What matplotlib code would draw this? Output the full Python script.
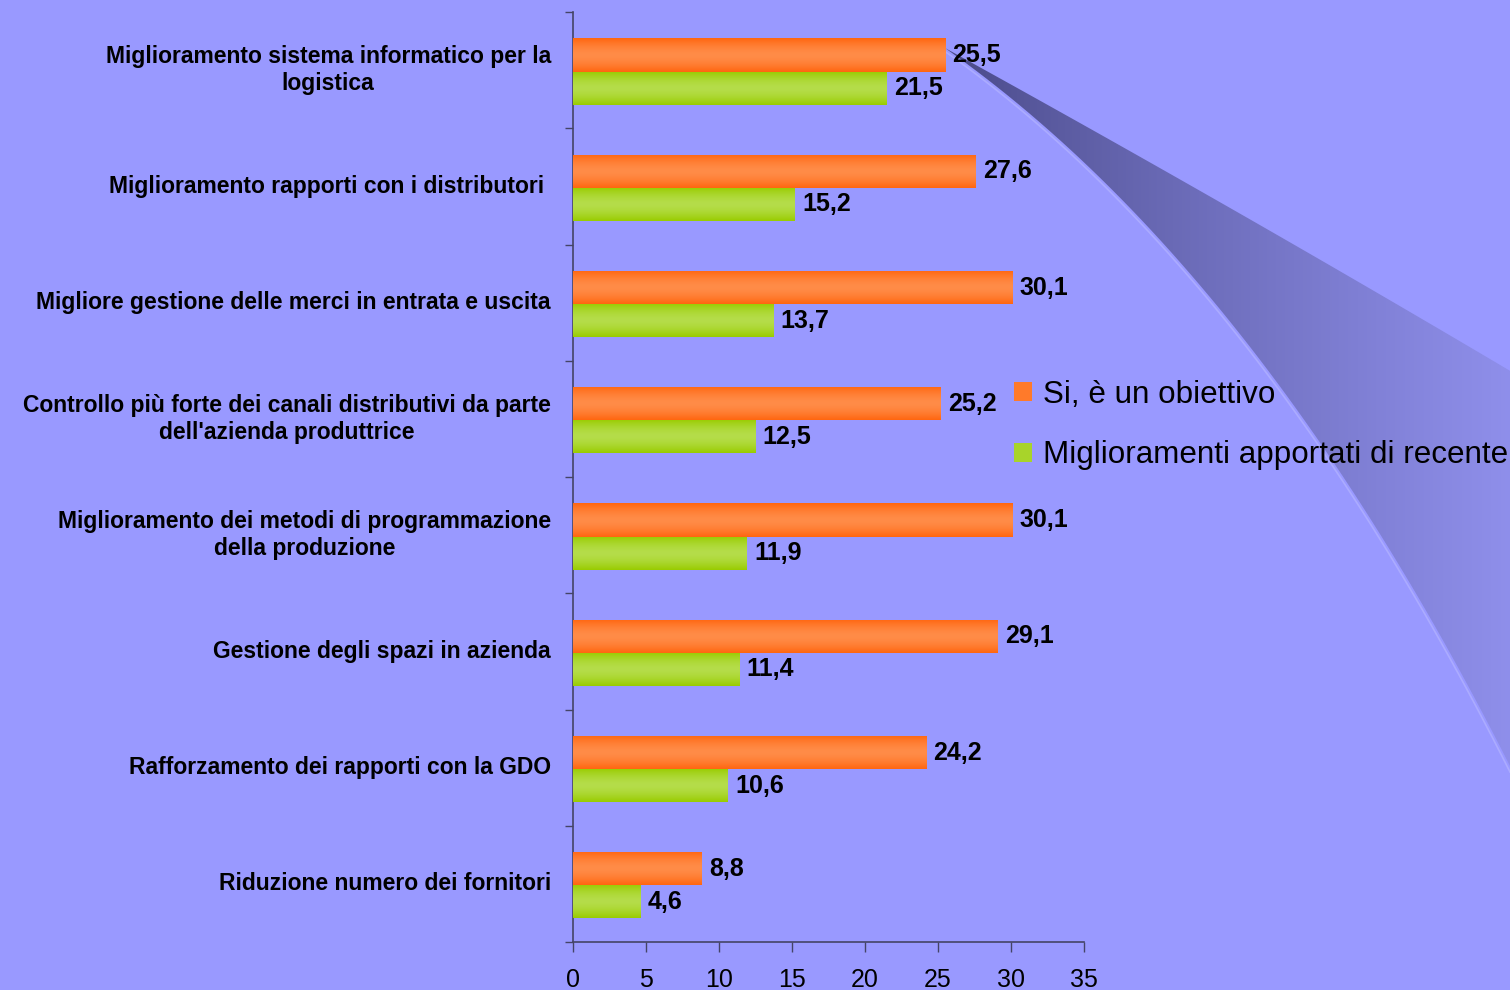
import matplotlib.pyplot as plt
import numpy as np
from matplotlib.colors import to_rgb
from matplotlib.patches import Patch, PathPatch
from matplotlib.path import Path

plt.rcParams['font.family'] = ['Liberation Sans', 'DejaVu Sans']

categories = [
    "Miglioramento sistema informatico per la\nlogistica",
    "Miglioramento rapporti con i distributori ",
    "Migliore gestione delle merci in entrata e uscita",
    "Controllo più forte dei canali distributivi da parte\ndell'azienda produttrice",
    "Miglioramento dei metodi di programmazione\ndella produzione",
    "Gestione degli spazi in azienda",
    "Rafforzamento dei rapporti con la GDO",
    "Riduzione numero dei fornitori",
]
obiettivo = [25.5, 27.6, 30.1, 25.2, 30.1, 29.1, 24.2, 8.8]
recenti = [21.5, 15.2, 13.7, 12.5, 11.9, 11.4, 10.6, 4.6]
series_names = ["Si, è un obiettivo", "Miglioramenti apportati di recente"]
xticks = [0, 5, 10, 15, 20, 25, 30, 35]

BG = "#9999ff"
ORANGE_EDGE, ORANGE_MID = "#ff6610", "#ff8c48"
GREEN_EDGE, GREEN_MID = "#99cc00", "#b5dd4a"

W, H = 1510, 990
fig = plt.figure(figsize=(W / 100, H / 100), dpi=100, facecolor=BG)

# decorative swoosh on the right, drawn in pixel coordinates
deco = fig.add_axes([0, 0, 1, 1], zorder=0)
deco.axis("off")
deco.set_facecolor(BG)


def bezier(p0, p1, p2, n=60):
    t = np.linspace(0, 1, n)[:, None]
    return (1 - t) ** 2 * np.array(p0) + 2 * (1 - t) * t * np.array(p1) + t ** 2 * np.array(p2)


upper = bezier((945, 48), (1230, 205), (1512, 372))
lower = bezier((945, 48), (1260, 270), (1512, 770))
outline = np.vstack([upper, [(1520, 372), (1520, 770)], lower[::-1]])
swoosh = PathPatch(Path(outline), facecolor="none", edgecolor="none")
deco.add_patch(swoosh)
gx = np.linspace(0, 1, 300)
dark = np.array([0.28, 0.28, 0.52])
light = np.array([0.56, 0.56, 0.92])
grad = dark + (light - dark) * (gx[:, None] ** 0.8)
img = deco.imshow(grad[None, :, :], extent=(945, W, H, 0), aspect="auto", zorder=1)
img.set_clip_path(swoosh)
deco.plot(lower[:, 0] - 2, lower[:, 1] + 2, color="#b0b0ff", lw=1.2, alpha=0.8, zorder=2)
deco.set_xlim(0, W)
deco.set_ylim(H, 0)

ax = fig.add_axes([573 / W, 48 / H, 511 / W, 930 / H], zorder=2)
ax.patch.set_alpha(0)

y = np.arange(len(categories))
bar_h = 0.285


def gradient_bars(centers, values, edge, mid):
    bars = ax.barh(centers, values, height=bar_h, color=mid, edgecolor="none", zorder=2)
    e, m = np.array(to_rgb(edge)), np.array(to_rgb(mid))
    s = np.linspace(-1, 1, 64)
    col = m + (e - m) * (np.abs(s) ** 1.6)[:, None]
    for b in bars:
        x0, y0 = b.get_x(), b.get_y()
        im = ax.imshow(col[:, None, :], extent=(x0, x0 + b.get_width(), y0, y0 + bar_h),
                       aspect="auto", zorder=3, interpolation="bilinear")
        im.set_clip_path(b)
    return bars


gradient_bars(y - 0.13, obiettivo, ORANGE_EDGE, ORANGE_MID)
gradient_bars(y + 0.155, recenti, GREEN_EDGE, GREEN_MID)

for yi, v in zip(y - 0.13, obiettivo):
    ax.text(v + 0.5, yi, f"{v:.1f}".replace(".", ","), va="center", ha="left",
            fontsize=18, fontweight="bold", color="black", zorder=4)
for yi, v in zip(y + 0.155, recenti):
    ax.text(v + 0.5, yi, f"{v:.1f}".replace(".", ","), va="center", ha="left",
            fontsize=18, fontweight="bold", color="black", zorder=4)

ax.set_xlim(0, 35)
ax.set_ylim(len(categories) - 0.5, -0.5)
ax.set_xticks(xticks)
ax.set_xticklabels([str(t) for t in xticks], fontsize=18)
ax.set_yticks(y)
ax.set_yticklabels(categories, fontsize=16.5, fontweight="bold", linespacing=1.25,
                   multialignment="center", va="center")
ax.set_yticks(np.arange(len(categories) + 1) - 0.5, minor=True)
ax.tick_params(axis="y", which="major", length=0, pad=16)
ax.tick_params(axis="y", which="minor", length=6, width=1, color="#444466", direction="out")
ax.tick_params(axis="x", length=7, width=1, color="#444466", pad=12)

for side in ("top", "right"):
    ax.spines[side].set_visible(False)
for side in ("left", "bottom"):
    ax.spines[side].set_color("#444466")
    ax.spines[side].set_linewidth(1.2)

handles = [Patch(facecolor="#ff7a2a", edgecolor="none"),
           Patch(facecolor="#a8d42a", edgecolor="none")]
fig.legend(handles, series_names, loc="center left",
           bbox_to_anchor=(1014 / W, 1 - 425 / H), frameon=False, fontsize=22.6,
           handlelength=0.56, handleheight=0.56, handletextpad=0.35,
           labelspacing=0.98, borderpad=0, borderaxespad=0)

fig.savefig("out.png", dpi=100, facecolor=BG)
